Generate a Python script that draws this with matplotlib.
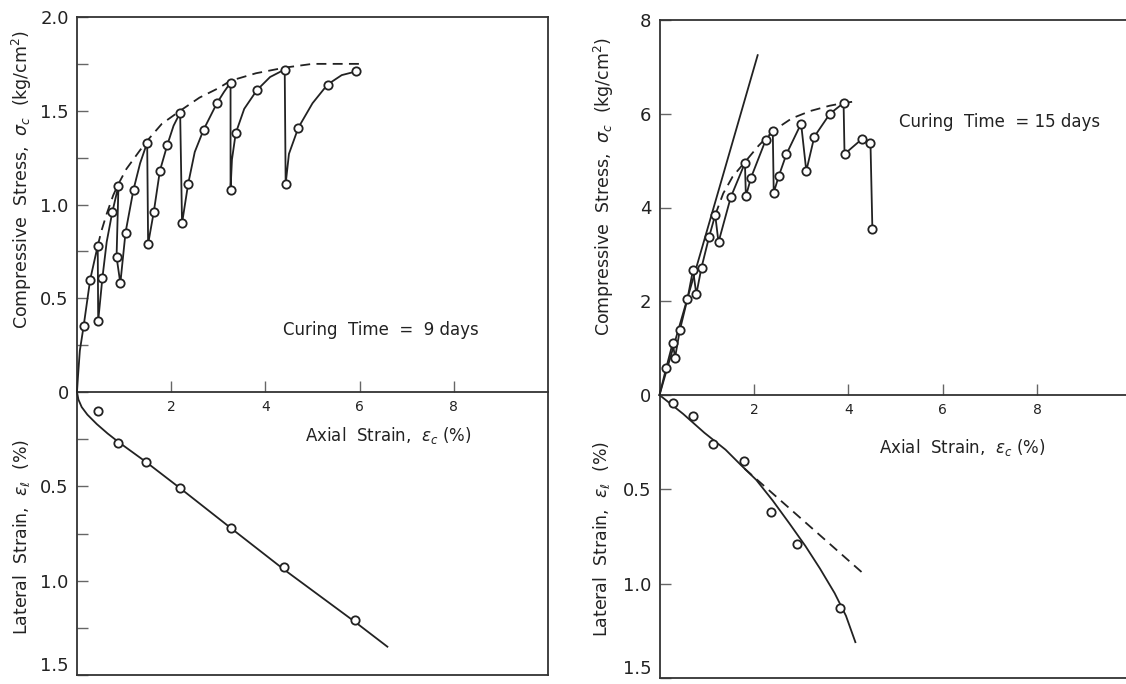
import matplotlib
matplotlib.use("Agg")
import matplotlib.pyplot as plt

# ---------------- data ----------------
# Left panel, curing time 9 days -- compressive stress vs axial strain
L_mark_eps = [0.14, 0.28, 0.44, 0.45, 0.54, 0.75, 0.88, 0.84, 0.92, 1.03, 1.20, 1.49, 1.51, 1.63,
              1.76, 1.92, 2.19, 2.23, 2.36, 2.69, 2.97, 3.26, 3.26, 3.37, 3.82, 4.41, 4.43, 4.70,
              5.32, 5.93]
L_mark_sig = [0.35, 0.60, 0.78, 0.38, 0.61, 0.96, 1.10, 0.72, 0.58, 0.85, 1.08, 1.33, 0.79, 0.96,
              1.18, 1.32, 1.49, 0.90, 1.11, 1.40, 1.54, 1.65, 1.08, 1.38, 1.61, 1.72, 1.11, 1.41,
              1.64, 1.71]
L_line_eps = [0, 0.02, 0.06, 0.14, 0.28, 0.44, 0.45, 0.54, 0.63, 0.75, 0.88, 0.84, 0.92, 1.03, 1.20,
              1.34, 1.49, 1.51, 1.63, 1.76, 1.92, 2.05, 2.19, 2.23, 2.36, 2.50, 2.69, 2.97, 3.12,
              3.26, 3.26, 3.29, 3.37, 3.55, 3.82, 4.10, 4.41, 4.43, 4.50, 4.70, 5.00, 5.32, 5.62, 5.93]
L_line_sig = [0, 0.08, 0.22, 0.35, 0.60, 0.78, 0.38, 0.61, 0.80, 0.96, 1.10, 0.72, 0.58, 0.85, 1.08,
              1.22, 1.33, 0.79, 0.96, 1.18, 1.32, 1.42, 1.49, 0.90, 1.11, 1.28, 1.40, 1.54, 1.60,
              1.65, 1.08, 1.24, 1.38, 1.51, 1.61, 1.68, 1.72, 1.11, 1.27, 1.41, 1.54, 1.64, 1.69, 1.71]
L_env_eps = [0.44, 0.52, 0.63, 0.77, 0.88, 1.05, 1.34, 1.49, 1.80, 2.19, 2.60, 3.00, 3.26, 3.80,
             4.41, 5.00, 5.50, 6.02]
L_env_sig = [0.78, 0.86, 0.95, 1.05, 1.11, 1.19, 1.29, 1.34, 1.43, 1.50, 1.57, 1.62, 1.66, 1.70,
             1.73, 1.75, 1.75, 1.75]
# Left panel -- lateral strain vs axial strain
LL_mark_eps = [0.45, 0.88, 1.46, 2.19, 3.26, 4.39, 5.91]
LL_mark_lat = [0.10, 0.27, 0.37, 0.51, 0.72, 0.93, 1.21]
LL_line_eps = [0, 0.03, 0.10, 0.22, 0.42, 0.65, 0.88, 1.46, 2.19, 3.26, 4.39, 5.91, 6.59]
LL_line_lat = [0, 0.04, 0.08, 0.12, 0.17, 0.22, 0.265, 0.37, 0.51, 0.72, 0.94, 1.22, 1.35]

# Right panel, curing time 15 days -- compressive stress vs axial strain
R_mark_eps = [0.14, 0.28, 0.33, 0.43, 0.59, 0.71, 0.78, 0.89, 1.05, 1.18, 1.25, 1.51, 1.81, 1.83,
              1.94, 2.25, 2.40, 2.42, 2.53, 2.69, 3.00, 3.11, 3.28, 3.61, 3.90, 3.92, 4.30, 4.47, 4.51]
R_mark_sig = [0.57, 1.11, 0.80, 1.38, 2.04, 2.67, 2.15, 2.72, 3.37, 3.84, 3.26, 4.22, 4.95, 4.24,
              4.64, 5.44, 5.63, 4.32, 4.68, 5.14, 5.79, 4.78, 5.51, 6.00, 6.23, 5.14, 5.47, 5.37, 3.55]
R_env_eps = [1.18, 1.35, 1.55, 1.81, 2.10, 2.40, 2.80, 3.20, 3.60, 3.90, 4.20]
R_env_sig = [3.84, 4.30, 4.66, 4.97, 5.32, 5.63, 5.90, 6.06, 6.17, 6.23, 6.27]
R_tan_eps = [0, 2.08]
R_tan_sig = [0, 7.25]
# Right panel -- lateral strain vs axial strain
RL_mark_eps = [0.28, 0.72, 1.14, 1.78, 2.37, 2.92, 3.83]
RL_mark_lat = [0.04, 0.11, 0.26, 0.35, 0.62, 0.79, 1.13]
RL_line_eps = [0, 0.50, 0.95, 1.40, 1.72, 2.05, 2.40, 2.75, 3.09, 3.40, 3.71, 3.95, 4.15]
RL_line_lat = [0, 0.10, 0.20, 0.29, 0.37, 0.45, 0.56, 0.68, 0.80, 0.92, 1.05, 1.17, 1.31]
RL_dash_eps = [1.80, 4.38]
RL_dash_lat = [0.39, 0.96]

x_ticks = [2, 4, 6, 8]
x_ticklabels = ["2", "4", "6", "8"]
L_up_ticks = [0, 0.5, 1.0, 1.5, 2.0]
L_up_labels = ["0", "0.5", "1.0", "1.5", "2.0"]
L_up_minor = [0.25, 0.75, 1.25, 1.75]
L_lo_ticks = [0.5, 1.0, 1.5]
L_lo_labels = ["0.5", "1.0", "1.5"]
L_lo_minor = [0.25, 0.75, 1.25]
R_up_ticks = [0, 2, 4, 6, 8]
R_up_labels = ["0", "2", "4", "6", "8"]
R_lo_ticks = [0.5, 1.0, 1.5]
R_lo_labels = ["0.5", "1.0", "1.5"]

# ---------------- styling ----------------
plt.rcParams["font.family"] = ["DejaVu Sans"]
W, H = 1126, 684
fig = plt.figure(figsize=(W / 100, H / 100), dpi=100)
INK = "#222222"
FRAME = "#333333"
TICKC = "#666666"


def rect(x0, y0, x1, y1):
    return [x0 / W, 1 - y1 / H, (x1 - x0) / W, (y1 - y0) / H]


def ftext(x, y, s, **kw):
    fig.text(x / W, 1 - y / H, s, **kw)


def style_axes(ax, upper, right_spine=True):
    for sp in ax.spines.values():
        sp.set_color(FRAME)
        sp.set_linewidth(1.3)
    if not upper:
        ax.spines["top"].set_visible(False)
    ax.spines["right"].set_visible(right_spine)
    ax.tick_params(axis="y", which="both", direction="in", color=TICKC, width=1.0,
                   labelsize=13, labelcolor=INK, pad=6)
    ax.tick_params(axis="y", which="major", length=8)
    ax.tick_params(axis="y", which="minor", length=8)


def plot_marks(ax, x, y):
    ax.plot(x, y, linestyle="none", marker="o", ms=6, mfc="white", mec=INK, mew=1.3,
            zorder=4, clip_on=False)


def plot_line(ax, x, y, dashed=False):
    if dashed:
        ax.plot(x, y, color=INK, lw=1.3, dashes=(5.5, 3.5), zorder=3, clip_on=False)
    else:
        ax.plot(x, y, color=INK, lw=1.3, zorder=3, clip_on=False)


def build_panel(up_rect, lo_rect, up_ylim, up_ticks, up_labels, up_minor,
                lo_ticks, lo_labels, lo_minor, right_spine):
    ax_lo = fig.add_axes(lo_rect)
    ax_up = fig.add_axes(up_rect)
    ax_up.set_zorder(2)
    ax_up.patch.set_alpha(0)
    for ax in (ax_up, ax_lo):
        ax.set_xlim(0, 10)
    ax_up.set_ylim(*up_ylim)
    ax_lo.set_ylim(1.5, 0)
    style_axes(ax_up, True, right_spine)
    style_axes(ax_lo, False, right_spine)
    ax_up.set_xticks(x_ticks)
    ax_up.set_xticklabels(x_ticklabels)
    ax_up.tick_params(axis="x", direction="in", length=8, color=TICKC, width=1.0,
                      labelsize=10, labelcolor=INK, pad=6)
    ax_lo.set_xticks([])
    ax_up.set_yticks(up_ticks)
    ax_up.set_yticklabels(up_labels)
    ax_up.set_yticks(up_minor, minor=True)
    ax_lo.set_yticks(lo_ticks)
    ax_lo.set_yticklabels(lo_labels)
    ax_lo.set_yticks(lo_minor, minor=True)
    return ax_up, ax_lo


# ---------------- left panel ----------------
axL, axLL = build_panel(rect(77, 17, 548, 392), rect(77, 392, 548, 675), (0, 2.0),
                        L_up_ticks, L_up_labels, L_up_minor,
                        L_lo_ticks, L_lo_labels, L_lo_minor, True)
plot_line(axL, L_line_eps, L_line_sig)
plot_line(axL, L_env_eps, L_env_sig, dashed=True)
plot_marks(axL, L_mark_eps, L_mark_sig)
plot_line(axLL, LL_line_eps, LL_line_lat)
plot_marks(axLL, LL_mark_eps, LL_mark_lat)

# ---------------- right panel ----------------
axR, axRL = build_panel(rect(659.5, 20, 1131.5, 395), rect(659.5, 395, 1131.5, 678), (0, 8),
                        R_up_ticks, R_up_labels, [],
                        R_lo_ticks, R_lo_labels, [], True)
plot_line(axR, R_tan_eps, R_tan_sig)
plot_line(axR, [0] + R_mark_eps, [0] + R_mark_sig)
plot_line(axR, R_env_eps, R_env_sig, dashed=True)
plot_marks(axR, R_mark_eps, R_mark_sig)
plot_line(axRL, RL_line_eps, RL_line_lat)
plot_line(axRL, RL_dash_eps, RL_dash_lat, dashed=True)
plot_marks(axRL, RL_mark_eps, RL_mark_lat)

# keep the bottom "1.5" labels inside the canvas
for axb in (axLL, axRL):
    axb.yaxis.get_major_ticks()[-1].label1.set_verticalalignment("bottom")

# ---------------- texts ----------------
lab = dict(color=INK, fontsize=12.5, rotation=90, ha="center", va="center")
ftext(22, 180, "Compressive  Stress,  $\\sigma_c$  (kg/cm$^2$)", **lab)
ftext(22, 537, "Lateral  Strain,  $\\epsilon_\\ell$  (%)", **lab)
ftext(604, 187, "Compressive  Stress,  $\\sigma_c$  (kg/cm$^2$)", **lab)
ftext(602, 539, "Lateral  Strain,  $\\epsilon_\\ell$  (%)", **lab)

ann = dict(color=INK, fontsize=12, ha="center", va="center")
ftext(388, 436, "Axial  Strain,  $\\epsilon_c$ (%)", **ann)
ftext(962, 448, "Axial  Strain,  $\\epsilon_c$ (%)", **ann)
ftext(381, 330, "Curing  Time  =  9 days", **ann)
ftext(1000, 122, "Curing  Time  = 15 days", **ann)

fig.savefig("out.png", dpi=100)
